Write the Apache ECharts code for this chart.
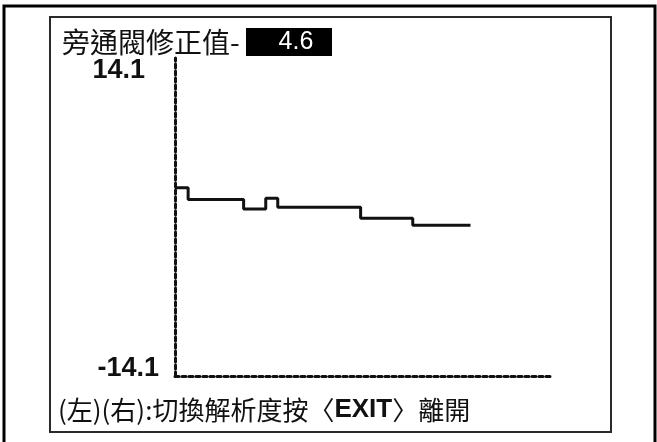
<!DOCTYPE html>
<html>
<head>
<meta charset="utf-8">
<script src="https://cdn.jsdelivr.net/npm/echarts@6/dist/echarts.min.js"></script>
<style>
html,body{margin:0;padding:0;background:#fff;}
#c{width:657px;height:442px;}
</style>
</head>
<body>
<div id="c"></div>
<script>
// Data
var titleText = '旁通閥修正值-';
var currentValue = '4.6';
var footerParts = ['(左)(右):切換解析度按〈', 'EXIT', '〉離開'];
var yMin = -14.1;
var yMax = 14.1;
var yTickLabels = [-14.1, 14.1];
var xMin = 0;
var xMax = 100;
var stepX = [0, 3.5, 18.3, 24.2, 27.4, 49.5, 63.4, 78.8];
var stepY = [2.6, 1.56, 0.71, 1.67, 0.87, -0.1, -0.74, -0.74];

var chart = echarts.init(document.getElementById('c'));
var seriesData = stepX.map(function (x, i) { return [x, stepY[i]]; });

var dashStyle = { color: '#111', width: 3, type: [4, 3] };
var numFont = '"Liberation Sans", Arial, sans-serif';
var cjkFont = '"Noto Sans CJK TC", "Noto Sans CJK SC", sans-serif';

chart.setOption({
  animation: false,
  backgroundColor: '#fff',
  grid: { left: 175, top: 58, right: 107, bottom: 66, containLabel: false },
  xAxis: {
    type: 'value', min: xMin, max: xMax,
    axisLine: { show: true, onZero: false, lineStyle: dashStyle },
    axisTick: { show: false }, axisLabel: { show: false }, splitLine: { show: false }
  },
  yAxis: {
    type: 'value', min: yMin, max: yMax,
    axisLine: { show: true, onZero: false, lineStyle: dashStyle },
    axisTick: { show: false },
    splitLine: { show: false },
    axisLabel: {
      show: true,
      customValues: yTickLabels,
      margin: 16,
      formatter: function (v) {
        return v > 0 ? '{t|' + v.toFixed(1) + '}' : '{b|' + v.toFixed(1) + '}';
      },
      rich: {
        t: { fontFamily: numFont, fontWeight: 'bold', fontSize: 27, color: '#111', padding: [26, 14, 0, 0] },
        b: { fontFamily: numFont, fontWeight: 'bold', fontSize: 27, color: '#111', padding: [0, 0, 14, 0] }
      }
    }
  },
  series: [{
    type: 'line',
    step: 'end',
    data: seriesData,
    showSymbol: false,
    symbol: 'none',
    lineStyle: { color: '#111', width: 3 }
  }],
  graphic: [
    { type: 'polyline', shape: { points: [[4, 442], [4, 6], [655, 6], [655, 442]] }, style: { stroke: '#000', lineWidth: 3, fill: null } },
    { type: 'rect', shape: { x: 50, y: 17, width: 561, height: 415 }, style: { stroke: '#2a2a2a', lineWidth: 2, fill: null } },
    { type: 'rect', shape: { x: 246, y: 28, width: 86, height: 28 }, style: { fill: '#000' } },
    { type: 'text', x: 296, y: 42, style: { text: currentValue, fill: '#fff', fontSize: 25, fontFamily: numFont, align: 'center', verticalAlign: 'middle' } },
    { type: 'text', x: 62, y: 42, style: { text: titleText, fill: '#111', fontSize: 28, fontFamily: cjkFont, align: 'left', verticalAlign: 'middle' } },
    { type: 'text', x: 58, y: 410, style: {
        text: '{a|' + footerParts[0] + '}{e|' + footerParts[1] + '}{a|' + footerParts[2] + '}',
        align: 'left', verticalAlign: 'middle',
        rich: {
          a: { fontFamily: cjkFont, fontSize: 26, fill: '#111' },
          e: { fontFamily: numFont, fontWeight: 'bold', fontSize: 26, fill: '#111' }
        }
      } }
  ]
});
</script>
</body>
</html>
